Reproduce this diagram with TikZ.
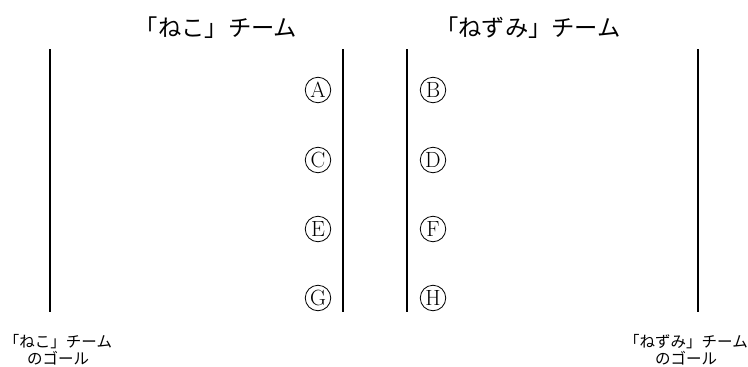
\documentclass[tikz,border=0pt]{standalone}
\usepackage{fontspec}
\newfontfamily\jp{Noto Sans CJK JP}
\begin{document}
\begin{tikzpicture}[x=1pt,y=-1pt,
  goal/.style={line width=2.6pt},
  player/.style={circle,draw,line width=0.8pt,inner sep=0pt,minimum size=25.5pt,font=\fontsize{22}{22}\selectfont},
  title/.style={font=\jp\fontsize{23.3}{23.3}\selectfont,inner sep=0pt},
  small/.style={font=\jp\fontsize{15.5}{17}\selectfont,align=center,inner sep=0pt}]
\useasboundingbox (0,0) rectangle (748,367);
\coordinate (l1t) at (50,49); \coordinate (l1b) at (50,312);
\coordinate (l2t) at (343,49); \coordinate (l2b) at (343,312);
\coordinate (l3t) at (407,49); \coordinate (l3b) at (407,312);
\coordinate (l4t) at (698,49); \coordinate (l4b) at (698,312);
\draw[goal] (l1t) -- (l1b);
\draw[goal] (l2t) -- (l2b);
\draw[goal] (l3t) -- (l3b);
\draw[goal] (l4t) -- (l4b);
\node[player] (A) at (318,90) {A};
\node[player] (C) at (318,160) {C};
\node[player] (E) at (318,229) {E};
\node[player] (G) at (318,298) {G};
\node[player] (B) at (433,90) {B};
\node[player] (D) at (433,160) {D};
\node[player] (F) at (433,229) {F};
\node[player] (H) at (433,298) {H};
\node[title] (t1) at (216,28) {「ねこ」チーム};
\node[title] (t2) at (528,28) {「ねずみ」チーム};
\node[small] (g1) at (58,350) {「ねこ」チーム\\のゴール};
\node[small] (g2) at (686,350) {「ねずみ」チーム\\のゴール};
\end{tikzpicture}
\end{document}
